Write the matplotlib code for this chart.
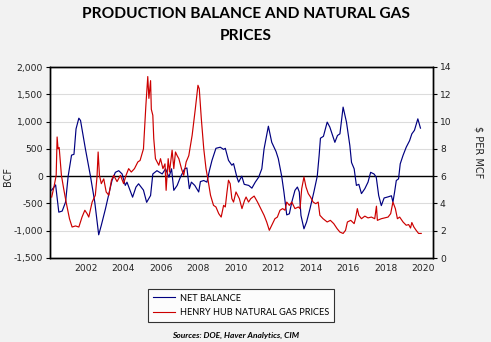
import matplotlib
matplotlib.use("Agg")
import matplotlib.pyplot as plt
import numpy as np

# ---- data ----
balance_dates = [2000.18, 2000.39, 2000.56, 2000.74, 2000.92, 2001.06, 2001.24, 2001.37, 2001.48, 2001.63,
                 2001.72, 2001.98, 2002.25, 2002.48, 2002.69, 2002.83, 2003.05, 2003.23, 2003.4, 2003.58,
                 2003.76, 2003.94, 2004.11, 2004.2, 2004.5, 2004.68, 2004.82, 2005.08, 2005.25, 2005.46,
                 2005.58, 2005.8, 2006.08, 2006.26, 2006.44, 2006.58, 2006.7, 2006.88, 2007.05, 2007.28,
                 2007.4, 2007.53, 2007.64, 2007.82, 2008.03, 2008.12, 2008.3, 2008.47, 2008.6, 2008.74,
                 2008.95, 2009.18, 2009.36, 2009.45, 2009.62, 2009.8, 2009.89, 2010.07, 2010.16, 2010.33,
                 2010.46, 2010.7, 2010.87, 2011.05, 2011.23, 2011.4, 2011.52, 2011.75, 2011.93, 2012.16,
                 2012.28, 2012.46, 2012.58, 2012.73, 2012.87, 2013.0, 2013.17, 2013.3, 2013.4, 2013.49,
                 2013.65, 2013.79, 2013.97, 2014.18, 2014.36, 2014.46, 2014.53, 2014.69, 2014.89, 2015.03,
                 2015.3, 2015.44, 2015.57, 2015.74, 2015.92, 2016.1, 2016.19, 2016.33, 2016.45, 2016.58,
                 2016.72, 2016.9, 2017.07, 2017.21, 2017.39, 2017.51, 2017.64, 2017.78, 2017.93, 2018.14,
                 2018.32, 2018.4, 2018.49, 2018.58, 2018.7, 2018.79, 2018.94, 2019.11, 2019.29, 2019.41,
                 2019.55, 2019.73, 2019.87]
balance_values = [-256, -160, -660, -640, -476, 0, 385, 400, 866, 1062,
                  1020, 500, 0, -476, -1075, -900, -600, -330, -80, 70,
                  100, 40, -170, -110, -385, -200, -140, -256, -480, -355,
                  40, 100, 40, 135, -20, 135, -260, -170, -20, 135,
                  150, -230, -110, -170, -290, -100, -80, -110, 100, 290,
                  510, 530, 490, 510, 290, 200, 230, -20, -110, 0,
                  -150, -170, -220, -110, -20, 135, 500, 915, 620, 450,
                  320, 0, -290, -710, -690, -476, -260, -200, -290, -720,
                  -965, -840, -600, -290, 0, 380, 695, 730, 990, 900,
                  620, 745, 775, 1265, 990, 560, 250, 135, -170, -150,
                  -320, -230, -110, 70, 40, -20, -355, -540, -400, -380,
                  -360, -476, -290, -80, -50, 225, 380, 530, 650, 775,
                  840, 1050, 880]

price_dates = [2000.18, 2000.3, 2000.42, 2000.47, 2000.52, 2000.58, 2000.7, 2000.82, 2000.95, 2001.13,
               2001.27, 2001.45, 2001.63, 2001.8, 2001.95, 2002.07, 2002.16, 2002.34, 2002.51, 2002.6,
               2002.66, 2002.73, 2002.83, 2002.96, 2003.09, 2003.23, 2003.37, 2003.49, 2003.67, 2003.85,
               2004.02, 2004.15, 2004.29, 2004.43, 2004.6, 2004.78, 2004.9, 2005.08, 2005.21, 2005.31,
               2005.37, 2005.46, 2005.5, 2005.58, 2005.63, 2005.72, 2005.81, 2005.9, 2005.99, 2006.12,
               2006.23, 2006.29, 2006.4, 2006.47, 2006.61, 2006.7, 2006.79, 2006.88, 2006.97, 2007.11,
               2007.23, 2007.36, 2007.5, 2007.68, 2007.85, 2007.99, 2008.06, 2008.17, 2008.3, 2008.42,
               2008.53, 2008.66, 2008.82, 2008.95, 2009.1, 2009.23, 2009.36, 2009.45, 2009.54, 2009.62,
               2009.71, 2009.8, 2009.89, 2010.02, 2010.2, 2010.34, 2010.48, 2010.56, 2010.69, 2010.81,
               2010.99, 2011.17, 2011.34, 2011.52, 2011.66, 2011.8, 2011.93, 2012.1, 2012.23, 2012.37,
               2012.51, 2012.64, 2012.73, 2012.87, 2013.0, 2013.17, 2013.35, 2013.44, 2013.53, 2013.65,
               2013.76, 2013.88, 2014.0, 2014.14, 2014.28, 2014.41, 2014.5, 2014.67, 2014.89, 2015.06,
               2015.24, 2015.42, 2015.57, 2015.74, 2015.87, 2015.97, 2016.15, 2016.33, 2016.4, 2016.5,
               2016.58, 2016.72, 2016.9, 2017.07, 2017.25, 2017.43, 2017.52, 2017.57, 2017.78, 2017.96,
               2018.14, 2018.28, 2018.4, 2018.53, 2018.64, 2018.76, 2018.94, 2019.11, 2019.24, 2019.34,
               2019.41, 2019.52, 2019.64, 2019.77, 2019.91]
price_values = [4.47, 5.2, 6.06, 8.87, 8.0, 8.1, 6.06, 5.08, 4.1, 2.88,
                2.27, 2.35, 2.27, 3.0, 3.5, 3.25, 3.0, 4.1, 4.6, 5.94,
                7.77, 6.06, 5.45, 5.8, 4.84, 4.6, 5.7, 6.06, 5.6, 6.06,
                5.45, 6.06, 6.55, 6.3, 6.55, 7.04, 7.15, 8.0, 11.2, 13.3,
                11.7, 13.0, 10.9, 10.46, 8.75, 7.28, 7.04, 6.8, 7.28, 6.55,
                6.9, 4.96, 7.28, 6.3, 7.9, 6.55, 7.77, 7.5, 7.28, 6.55,
                6.06, 7.04, 7.5, 9.0, 10.94, 12.66, 12.4, 10.2, 8.0, 6.55,
                5.7, 4.6, 3.86, 3.74, 3.25, 3.0, 3.86, 3.74, 4.84, 5.7,
                5.45, 4.35, 4.1, 4.84, 4.35, 3.62, 4.23, 4.47, 4.1, 4.35,
                4.54, 4.1, 3.62, 3.13, 2.64, 2.03, 2.4, 2.88, 3.0, 3.5,
                3.62, 3.5, 4.1, 3.86, 4.1, 3.62, 3.74, 3.62, 5.08, 5.94,
                5.2, 4.72, 4.47, 4.1, 3.98, 4.1, 3.13, 2.88, 2.64, 2.76,
                2.52, 2.15, 1.9, 1.8, 2.03, 2.64, 2.76, 2.52, 2.88, 3.62,
                3.13, 2.88, 3.07, 2.94, 3.0, 2.88, 3.8, 2.76, 2.88, 2.94,
                3.0, 3.25, 4.1, 3.62, 2.88, 3.0, 2.64, 2.4, 2.45, 2.2,
                2.6, 2.27, 2.03, 1.8, 1.8]

left_ticks = [-1500, -1000, -500, 0, 500, 1000, 1500, 2000]
right_ticks = [0, 2, 4, 6, 8, 10, 12, 14]
year_ticks = [2002, 2004, 2006, 2008, 2010, 2012, 2014, 2016, 2018, 2020]

title = "PRODUCTION BALANCE AND NATURAL GAS\nPRICES"
series_names = ["NET BALANCE", "HENRY HUB NATURAL GAS PRICES"]
source_text = "Sources: DOE, Haver Analytics, CIM"

BLUE = "#000080"
RED = "#cc0000"
BG = "#f2f2f2"

fig = plt.figure(figsize=(4.91, 3.42), dpi=100, facecolor=BG)
ax = fig.add_axes([50/491, 1-258/342, 383/491, 191/342])
ax.set_facecolor("white")
ax2 = ax.twinx()

tick_font = dict(family="DejaVu Sans", size=6.6)
label_font = ["Lato", "DejaVu Sans"]

ax.plot(balance_dates, balance_values, color=BLUE, lw=0.85, zorder=3)
ax2.plot(price_dates, price_values, color=RED, lw=0.85, zorder=3)

ax.set_xlim(2000.09, 2020.54)
ax.set_ylim(-1500, 2000)
ax2.set_ylim(0, 14)

ax.set_yticks(left_ticks)
ax.set_yticklabels([f"{v:,}" for v in left_ticks], **tick_font, color="#222222")
ax2.set_yticks(right_ticks)
ax2.set_yticklabels([str(v) for v in right_ticks], **tick_font, color="#222222")
ax.set_xticks(year_ticks)
ax.set_xticklabels([str(v) for v in year_ticks], **tick_font, color="#222222")

ax.tick_params(axis="x", length=0, pad=4)
ax.tick_params(axis="y", length=3, width=0.8, pad=2)
ax2.tick_params(axis="y", length=3, width=0.8, pad=2)

for a in (ax, ax2):
    for s in a.spines.values():
        s.set_linewidth(1.0)
        s.set_color("black")

ax.grid(axis="y", color="#dcdcdc", lw=0.8, zorder=0)
ax.set_axisbelow(True)
ax.axhline(0, color="black", lw=1.0, zorder=2)

fig.text(8/491, 1-176/342, "BCF", rotation=90, ha="center", va="center",
         fontsize=7, family="DejaVu Sans", color="#222222")
fig.text(478/491, 1-152/342, "$ PER MCF", rotation=-90, ha="center", va="center",
         fontsize=7, family="DejaVu Sans", color="#222222")

fig.text(0.5, 1-25/342, title, ha="center", va="center", fontsize=11.2,
         fontweight="bold", family=label_font, linespacing=1.75)

handles = [plt.Line2D([], [], color=BLUE, lw=0.8), plt.Line2D([], [], color=RED, lw=0.8)]
leg = fig.legend(handles, series_names, loc="upper left",
                 bbox_to_anchor=(148/491, 1-289/342), frameon=True, fancybox=False,
                 prop={"family": label_font, "size": 6.6}, handlelength=2.4,
                 handletextpad=0.6, borderpad=0.5, labelspacing=0.6,
                 borderaxespad=0)
leg.get_frame().set_edgecolor("black")
leg.get_frame().set_linewidth(0.8)
leg.get_frame().set_facecolor("white")

fig.text(236/491, 1-335/342, source_text, ha="center", va="center", fontsize=6,
         fontweight="bold", fontstyle="italic", family=label_font)

fig.savefig("out.png", dpi=100, facecolor=BG)
